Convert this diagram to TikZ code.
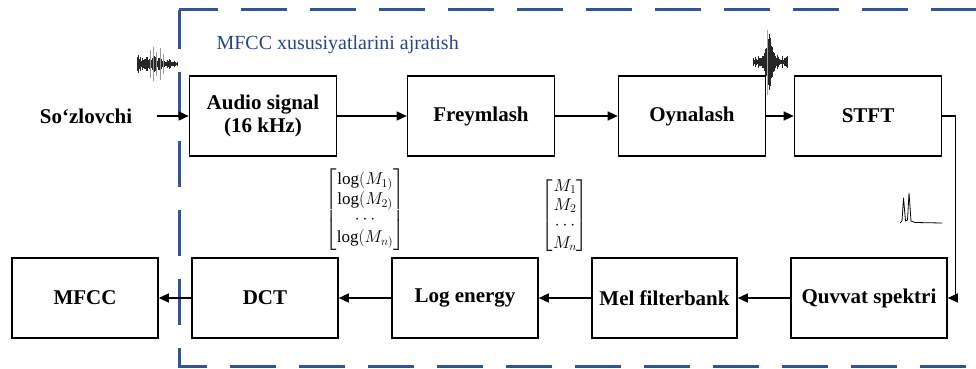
\documentclass[tikz,border=0pt]{standalone}
\usepackage{amsmath,amssymb}
\usepackage{fontspec}
\setmainfont{Liberation Serif}
\usepackage{tikz}
\usetikzlibrary{calc,positioning,arrows.meta}
\definecolor{ramka}{RGB}{47,85,151}
\definecolor{sarlavha}{RGB}{38,68,140}

\tikzset{
  blok/.style={draw, line width=1.6pt, minimum height=80pt, minimum width=147pt,
    align=center, font=\fontsize{21}{23}\selectfont\bfseries},
  oq/.style={line width=1.4pt, -{Triangle[length=10pt,width=9pt]}},
  ramkachiziq/.style={draw=ramka, line width=3pt, dash pattern=on 46pt off 23pt, dash phase=7pt},
  matn/.style={font=\fontsize{17}{19}\selectfont, inner sep=1pt},
}

\begin{document}
\begin{tikzpicture}[x=1pt, y=-1pt]
				\useasboundingbox (0,0) rectangle (976,369);
				% dashed frame of the feature extraction stage
				\path[ramkachiziq] (179,10) -- (1000,10);
				\path[ramkachiziq] (179,10) -- (179,366) -- (1000,366);
				\node[anchor=west, text=sarlavha, font=\fontsize{20}{22}\selectfont] (sarl) at (213,45) {MFCC xususiyatlarini ajratish};
				
				% top row
				\node[font=\fontsize{21}{23}\selectfont\bfseries] (speaker) at (86,116) {So‘zlovchi};
				\node[blok] (audio) at (263,116) {Audio signal\\(16 kHz)};
				\node[blok] (frame) at (481,116) {Freymlash};
				\node[blok] (window) at (692,116) {Oynalash};
				\node[blok] (stft) at (868,116) {STFT};
				
				% bottom row
				\node[blok, minimum width=146pt] (mfcc) at (85,298) {MFCC};
				\node[blok, minimum width=146pt] (dct) at (265,298) {DCT};
				\node[blok, minimum width=146pt] (logen) at (465,298) {Log energy};
				\node[blok, minimum width=145pt] (mel) at (664.5,298) {Mel filterbank};
				\node[blok, minimum width=156pt] (power) at (869,298) {Quvvat spektri};
				
				\coordinate (spk) at (157,116);
				\draw[oq] (spk) -- (audio);
				\draw[oq] (audio) -- (frame);
				\draw[oq] (frame) -- (window);
				\draw[oq] (window) -- (stft);
				\draw[oq] (stft.east) -- ++(13,0) |- (power.east);
				\draw[oq] (power) -- (mel);
				\draw[oq] (mel) -- (logen);
				\draw[oq] (logen) -- (dct);
				\draw[oq] (dct) -- (mfcc);
				
				% vectors between the stages
				\node[matn] (logvec) at (365,210) {$\begin{bmatrix}\log(M_{1)}\\ \log(M_{2)}\\ \cdots\\ \log(M_{n)}\end{bmatrix}$};
				\node[matn] (melvec) at (565,216) {$\begin{bmatrix}M_1\\ M_2\\ \cdots\\ M_n\end{bmatrix}$};
				
				% speech waveform near the input
				\pgfmathsetseed{11}
				\foreach \i in {0,...,40} {
					\pgfmathsetmacro\amp{(3+6*rnd)*(1-0.6*(\i/40)^2)}
					\draw[line width=0.6pt, black!85] (137+\i,64-\amp) -- (137+\i,64+\amp);
				}
				\foreach \i/\h in {150/14,153/17,156/12,160/16,163/10} {
					\draw[line width=0.5pt, black!40] (\i,64-\h) -- (\i,64+\h);
				}
				
				% windowed frame waveform
				\pgfmathsetseed{5}
				\foreach \i in {0,...,34} {
					\pgfmathsetmacro\amp{(2+5*rnd)+24*exp(-((\i-16)/4)^2)*(0.6+0.4*rnd)}
					\draw[line width=0.6pt, black!85] (753+\i,62-\amp) -- (753+\i,62+\amp);
				}
				\draw[line width=0.5pt, black!35] (767,30) -- (767,95);
				
				% power spectrum sketch
				\draw[line width=0.8pt, line join=round] (900,223) -- (902,221) -- (903.5,198) -- (905.5,221) -- (907.5,220)
				  -- (909,193) -- (911,221) -- (915,222.5) -- (942,223);
			\end{tikzpicture}
\end{document}
